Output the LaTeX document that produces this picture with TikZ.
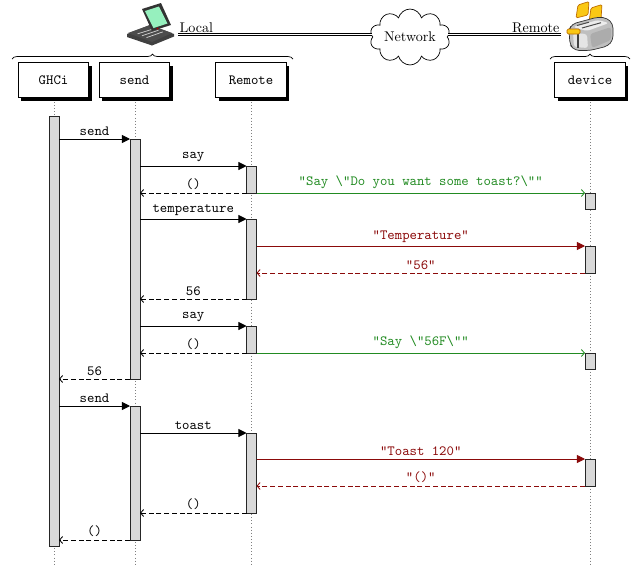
\documentclass[tikz,border=0pt]{standalone}
\usetikzlibrary{arrows.meta,shapes.symbols,shadows,decorations.pathreplacing,calc}
\definecolor{msggreen}{RGB}{34,139,34}
\definecolor{msgred}{RGB}{139,10,10}
\definecolor{mint}{RGB}{150,240,190}
\definecolor{toastyellow}{RGB}{250,200,20}
\definecolor{toastorange}{RGB}{190,110,0}
\begin{document}
\begin{tikzpicture}[x=0.71pt,y=-0.71pt,
 headbox/.style={draw, fill=white, line width=0.6pt, minimum width=50pt, minimum height=25pt, font=\ttfamily,
   drop shadow={shadow xshift=2.2pt, shadow yshift=-2.2pt, fill=black, opacity=1}},
 lifeline/.style={gray, line width=0.4pt, dash pattern=on 0.6pt off 1.6pt},
 actbar/.style={draw=black!85, fill=gray!30, line width=0.6pt},
 lbl/.style={font=\ttfamily, above, inner sep=2.4pt},
 callmsg/.style={line width=0.6pt, -{Triangle[length=5.7pt,width=5.7pt]}},
 retmsg/.style={line width=0.6pt, dash pattern=on 3.5pt off 2pt, -{Straight Barb[length=2.2pt,width=5pt]}},
 greenmsg/.style={msggreen, line width=0.6pt, -{Straight Barb[length=2.2pt,width=5pt]}},
 redcall/.style={msgred, line width=0.6pt, -{Triangle[length=5.7pt,width=5.7pt]}},
 redret/.style={msgred, line width=0.6pt, dash pattern=on 3.5pt off 2pt, -{Straight Barb[length=2.2pt,width=5pt]}},
 dblline/.style={double, double distance=1pt, line width=0.45pt},
 bracedeco/.style={decorate, decoration={brace, amplitude=3.5pt}, line width=0.5pt}]
\useasboundingbox (0,0) rectangle (635,565);

% ---------- icons ----------
% laptop
\fill[black!75] (127,34) -- (150,25) -- (174,34) -- (174,36.5) -- (152,45.5) -- (127,37) -- cycle;
\fill[gray!60!black] (128,33) -- (150,25) -- (172,33) -- (152,42) -- cycle;
\foreach \t in {0.25,0.5,0.75}{
  \draw[gray!35, line width=0.5pt] ($(133,32)!\t!(151,39.5)$) -- ($(150,27)!\t!(167,33.5)$);
}
\fill[black!80] (142,9) -- (161,3) -- (171,25) -- (152,31) -- cycle;
\fill[mint] (145,11) -- (159,6.5) -- (167.5,23.5) -- (153.5,28) -- cycle;
\fill[red!70!black] (157.5,28.5) circle (1);
% toaster
\filldraw[fill=toastyellow, draw=toastorange, line width=0.5pt, rounded corners=1] (576,18) -- (578,5) -- (589,1.5) -- (588,15) -- cycle;
\filldraw[fill=toastyellow, draw=toastorange, line width=0.5pt, rounded corners=1] (589,22) -- (591,8) -- (602,4.5) -- (601,19) -- cycle;
\filldraw[fill=gray!50, draw=black!80, line width=0.5pt, rounded corners=3] (569,30) -- (572,24) -- (598,17) -- (607,18) -- (613,24) -- (613,40) -- (608,46) -- (590,50.5) -- (575,50.5) -- (570,45) -- cycle;
\fill[gray!15, rounded corners=2] (573,27) -- (598,20) -- (609,23) -- (587,31) -- cycle;
\draw[black!70, line width=0.7pt] (577,25.5) -- (589,22.2);
\draw[black!70, line width=0.7pt] (582,28) -- (601,22.7);
\fill[gray!20, rounded corners=2] (573,33) -- (587,34) -- (588,48) -- (574,47) -- cycle;
\fill[gray!65, rounded corners=2] (590,34) -- (611,27) -- (611,40) -- (592,48) -- cycle;
\fill[black!75] (577,34) rectangle (579.3,47.5);
\filldraw[fill=toastyellow, draw=toastorange, line width=0.5pt, rounded corners=1] (567,29) rectangle (580,34);

% ---------- network ----------
\node[cloud, draw, fill=white, cloud puffs=10, aspect=1.8, minimum width=57pt, minimum height=35pt, inner sep=0pt, line width=0.5pt] (net) at (410,37) {Network};
\node[anchor=south west, inner sep=1pt] (local) at (178,34.5) {Local};
\node[anchor=south east, inner sep=1pt] (remotelbl) at (561,34.5) {Remote};
\draw[dblline] (local.south west) -- (local.south west -| net.west);
\draw[dblline] (remotelbl.south east) -- (remotelbl.south east -| net.east);

% ---------- braces ----------
\coordinate (brL1) at (12,59); \coordinate (brL2) at (293,59);
\coordinate (brR1) at (550,59); \coordinate (brR2) at (630,59);
\draw[bracedeco] (brL1) -- (brL2);
\draw[bracedeco] (brR1) -- (brR2);

% ---------- heads ----------
\node[headbox] (ghci) at (53.5,80) {GHCi};
\node[headbox] (send) at (134.5,80) {send};
\node[headbox] (remote) at (251,80) {Remote};
\node[headbox] (device) at (590,80) {device};

\coordinate (ghciTop) at (54,102);   \coordinate (ghciEnd) at (54,565);
\coordinate (sendTop) at (135,102);  \coordinate (sendEnd) at (135,565);
\coordinate (remTop) at (251.5,102); \coordinate (remEnd) at (251.5,565);
\coordinate (devTop) at (590,102);   \coordinate (devEnd) at (590,565);
\draw[lifeline] (ghciTop) -- (ghciEnd);
\draw[lifeline] (sendTop) -- (sendEnd);
\draw[lifeline] (remTop) -- (remEnd);
\draw[lifeline] (devTop) -- (devEnd);

% ---------- activation bars ----------
\draw[actbar] (49,116) rectangle (59,546.5);
\draw[actbar] (130,139) rectangle (140,379);
\draw[actbar] (130,406) rectangle (140,540);
\draw[actbar] (246.5,166) rectangle (256.5,193);
\draw[actbar] (246.5,219) rectangle (256.5,299);
\draw[actbar] (246.5,326) rectangle (256.5,353);
\draw[actbar] (246.5,433) rectangle (256.5,513);
\draw[actbar] (585,193) rectangle (595,209);
\draw[actbar] (585,246) rectangle (595,273);
\draw[actbar] (585,353) rectangle (595,369);
\draw[actbar] (585,459) rectangle (595,486);

% ---------- message end points ----------
\coordinate (g1) at (59,139);    \coordinate (s1) at (130,139);
\coordinate (s2) at (140,166);   \coordinate (r2) at (246.5,166);
\coordinate (r3) at (246.5,193); \coordinate (s3) at (140,193);
\coordinate (r4) at (256.5,193); \coordinate (d4) at (585,193);
\coordinate (s5) at (140,219);   \coordinate (r5) at (246.5,219);
\coordinate (r6) at (256.5,246); \coordinate (d6) at (585,246);
\coordinate (d7) at (585,273);   \coordinate (r7) at (256.5,273);
\coordinate (r8) at (246.5,299); \coordinate (s8) at (140,299);
\coordinate (s9) at (140,326);   \coordinate (r9) at (246.5,326);
\coordinate (r10) at (246.5,353); \coordinate (s10) at (140,353);
\coordinate (r11) at (256.5,353); \coordinate (d11) at (585,353);
\coordinate (s12) at (130,379);  \coordinate (g12) at (59,379);
\coordinate (g13) at (59,406);   \coordinate (s13) at (130,406);
\coordinate (s14) at (140,433);  \coordinate (r14) at (246.5,433);
\coordinate (r15) at (256.5,459); \coordinate (d15) at (585,459);
\coordinate (d16) at (585,486);  \coordinate (r16) at (256.5,486);
\coordinate (r17) at (246.5,513); \coordinate (s17) at (140,513);
\coordinate (s18) at (130,540);  \coordinate (g18) at (59,540);

% ---------- messages ----------
\draw[callmsg] (g1) -- node[lbl] {send} (s1);
\draw[callmsg] (s2) -- node[lbl] {say} (r2);
\draw[retmsg] (r3) -- node[lbl] {()} (s3);
\draw[greenmsg] (r4) -- node[lbl] {"Say \textbackslash"Do you want some toast?\textbackslash""} (d4);
\draw[callmsg] (s5) -- node[lbl] {temperature} (r5);
\draw[redcall] (r6) -- node[lbl] {"Temperature"} (d6);
\draw[redret] (d7) -- node[lbl] {"56"} (r7);
\draw[retmsg] (r8) -- node[lbl] {56} (s8);
\draw[callmsg] (s9) -- node[lbl] {say} (r9);
\draw[retmsg] (r10) -- node[lbl] {()} (s10);
\draw[greenmsg] (r11) -- node[lbl] {"Say \textbackslash"56F\textbackslash""} (d11);
\draw[retmsg] (s12) -- node[lbl] {56} (g12);
\draw[callmsg] (g13) -- node[lbl] {send} (s13);
\draw[callmsg] (s14) -- node[lbl] {toast} (r14);
\draw[redcall] (r15) -- node[lbl] {"Toast 120"} (d15);
\draw[redret] (d16) -- node[lbl] {"()"} (r16);
\draw[retmsg] (r17) -- node[lbl] {()} (s17);
\draw[retmsg] (s18) -- node[lbl] {()} (g18);
\end{tikzpicture}
\end{document}
